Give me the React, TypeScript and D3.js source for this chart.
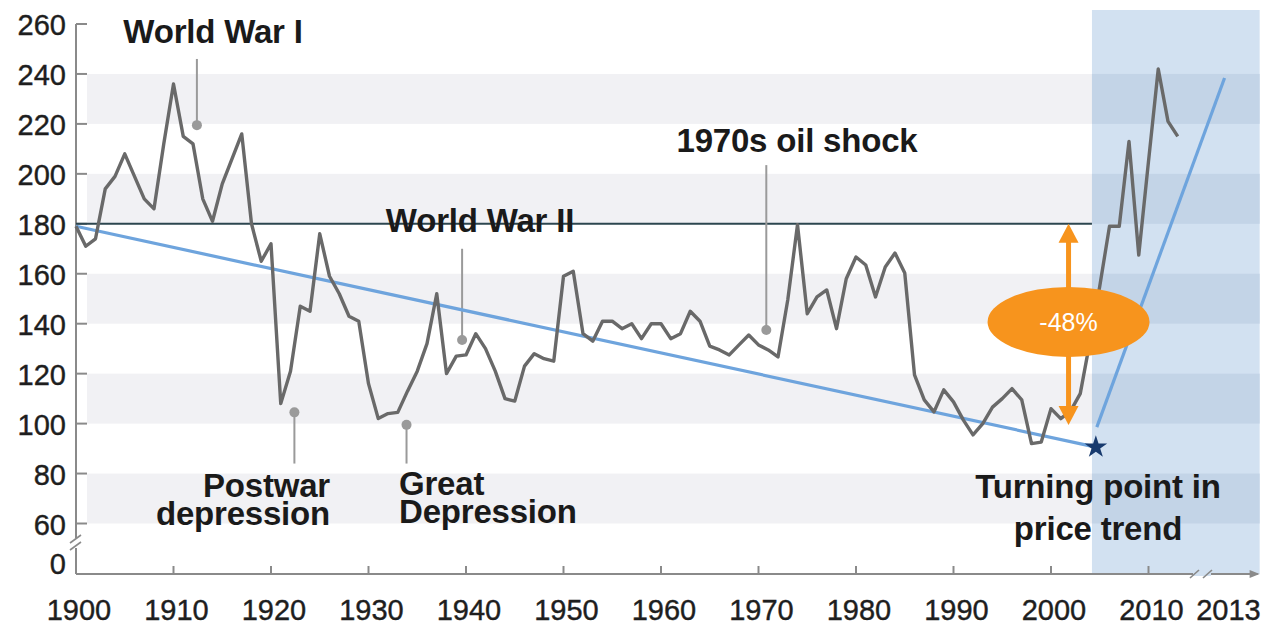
import React from "react";
import * as d3 from "d3";

// ---------- data ----------
const years: number[] = d3.range(1900, 2014);
const priceIndex: number[] = [
  179, 171, 174, 194, 199, 208, 199, 190, 186, 212, // 1900-1909
  236, 215, 212, 190, 181, 196, 206, 216, 180, 165, // 1910-1919
  172, 108, 121, 147, 145, 176, 159, 152, 143, 141, // 1920-1929
  116, 102, 104, 104.5, 113, 121, 132, 152, 120, 127, // 1930-1939
  127.5, 136, 130, 121, 110, 109, 123, 128, 126, 125, // 1940-1949
  159, 161, 136, 133, 141, 141, 138, 140, 134, 140, // 1950-1959
  140, 134, 136, 145, 141, 131, 129.5, 127.5, 131.5, 135.5, // 1960-1969
  131.5, 129.5, 126.7, 149.5, 179.6, 144, 150.7, 153.5, 138, 158, // 1970-1979
  166.7, 163.5, 150.7, 162.7, 168.3, 160.3, 119.5, 109.5, 104.7, 113.5, // 1980-1989
  108.7, 101.5, 95.5, 100, 106.6, 110, 114, 109.5, 92, 92.6, // 1990-1999
  106, 102, 105, 112, 133, 155, 179, 179, 213, 167.5, // 2000-2009
  205, 242, 221, 215, // 2010-2013
];

const yTicks: number[] = [260, 240, 220, 200, 180, 160, 140, 120, 100, 80, 60];
const yBands: [number, number][] = [[220, 240], [180, 200], [140, 160], [100, 120], [60, 80]];
const xTickYears: number[] = [1900, 1910, 1920, 1930, 1940, 1950, 1960, 1970, 1980, 1990, 2000, 2010];
const xTickLabels: string[] = ["1900", "1910", "1920", "1930", "1940", "1950", "1960", "1970", "1980", "1990", "2000", "2010"];
const brokenLabel = "2013";
const brokenLabelYear = 2018.2; // display position after the axis break

const referenceLevel = 180;
const downTrend: [number, number][] = [[1900, 179], [2004.6, 90.6]];
const upTrend: [number, number][] = [[2004.7, 98.6], [2017.8, 238.4]];
const turningPoint: [number, number] = [2004.6, 90.6];
const shadeStartYear = 2004.2;
const axisEndYear = 2021.4;
const dropArrow = { year: 2001.8, from: 180, to: 99.4, labelValue: 140.7, label: "-48%" };

type Ann = { lines: string[]; year: number; value: number; lineTo: number; textX: number; textY: number; anchor: string; lh: number };
const annotations: Ann[] = [
  { lines: ["World War I"], year: 1912.4, value: 219.5, lineTo: 246, textX: 213, textY: 43, anchor: "middle", lh: 0 },
  { lines: ["World War II"], year: 1939.6, value: 133.5, lineTo: 170, textX: 480, textY: 232, anchor: "middle", lh: 0 },
  { lines: ["1970s oil shock"], year: 1970.8, value: 137.5, lineTo: 203.5, textX: 797, textY: 152, anchor: "middle", lh: 0 },
  { lines: ["Postwar", "depression"], year: 1922.4, value: 104.5, lineTo: 84, textX: 330, textY: 497, anchor: "end", lh: 28 },
  { lines: ["Great", "Depression"], year: 1933.9, value: 99.5, lineTo: 84, textX: 399, textY: 495, anchor: "start", lh: 28 },
];
const turningLabel = ["Turning point in", "price trend"];

// ---------- layout ----------
const W = 1268, H = 626;
const x = d3.scaleLinear().domain([1900, 2010]).range([76, 1148.5]);
const y = d3.scaleLinear().domain([60, 260]).range([523.5, 24]);
const axisY = 574;
const axisX = 76;
const font = "'Liberation Sans', Arial, Helvetica, sans-serif";

export default function App() {
  const pts: [number, number][] = years.map((yr, i) => [x(yr), y(priceIndex[i])]);
  const line = d3.line<[number, number]>().x((d) => d[0]).y((d) => d[1]);
  const tline = d3.line<[number, number]>().x((d) => x(d[0])).y((d) => y(d[1]));
  const xs = x(shadeStartYear), xe = x(axisEndYear);
  const star = d3.symbol().type(d3.symbolStar).size(160)();
  const ax = x(dropArrow.year);
  const aTop = y(dropArrow.from), aBot = y(dropArrow.to), aMid = y(dropArrow.labelValue);
  const tickText = { fontSize: 29, fill: "#1e1e1e", stroke: "#1e1e1e", strokeWidth: 0.4 };

  return (
    <svg width={W} height={H} style={{ position: "absolute", left: 0, top: 0, background: "#fff" }} fontFamily={font}>
      {/* shaded future region */}
      <rect x={xs} y={10} width={xe - xs} height={axisY - 10} fill="#d2e1f1" />
      {/* bands */}
      {yBands.map(([a, b], i) => (
        <g key={i}>
          <rect x={87} y={y(b)} width={xs - 87} height={y(a) - y(b)} fill="#f1f1f4" />
          <rect x={xs} y={y(b)} width={xe - xs} height={y(a) - y(b)} fill="#c3d4e7" />
        </g>
      ))}

      {/* axes */}
      <line x1={axisX} x2={axisX} y1={y(260)} y2={axisY} stroke="#8a8a8a" strokeWidth={2} />
      <line x1={axisX} x2={xe - 2} y1={axisY} y2={axisY} stroke="#8a8a8a" strokeWidth={2} />
      <path d={`M${xe - 10},${axisY - 4}L${xe},${axisY}L${xe - 10},${axisY + 4}Z`} fill="#8a8a8a" />
      {yTicks.map((t) => (
        <g key={t}>
          <line x1={axisX} x2={87} y1={y(t)} y2={y(t)} stroke="#8a8a8a" strokeWidth={2} />
          <text x={66} y={y(t) + 11} textAnchor="end" {...tickText}>{t}</text>
        </g>
      ))}
      <text x={66} y={axisY} textAnchor="end" {...tickText}>0</text>
      {/* y break */}
      <rect x={70} y={538} width={12} height={10} fill="#fff" />
      <line x1={70} y1={543} x2={81} y2={535} stroke="#8a8a8a" strokeWidth={1.6} />
      <line x1={70} y1={550} x2={81} y2={542} stroke="#8a8a8a" strokeWidth={1.6} />
      {xTickYears.map((t, i) => (
        <g key={t}>
          {i > 0 && <line x1={x(t)} x2={x(t)} y1={axisY} y2={axisY - 8} stroke="#8a8a8a" strokeWidth={2} />}
          <text x={x(t) + 3} y={620} textAnchor="middle" {...tickText}>{xTickLabels[i]}</text>
        </g>
      ))}
      <text x={x(brokenLabelYear)} y={620} textAnchor="middle" {...tickText}>{brokenLabel}</text>
      {/* x break */}
      <rect x={1193} y={axisY - 2} width={18} height={4} fill="#d2e1f1" />
      <line x1={1190} y1={axisY + 4} x2={1199} y2={axisY - 4} stroke="#8a8a8a" strokeWidth={1.6} />
      <line x1={1203} y1={axisY + 4} x2={1212} y2={axisY - 4} stroke="#8a8a8a" strokeWidth={1.6} />

      {/* reference level */}
      <line x1={axisX} x2={xs} y1={y(referenceLevel)} y2={y(referenceLevel)} stroke="#2c464f" strokeWidth={2} />

      {/* annotation pointers */}
      {annotations.map((a, i) => (
        <g key={i}>
          <line x1={x(a.year)} x2={x(a.year)} y1={y(a.value)} y2={y(a.value) + (a.lineTo > a.value ? -1 : 1) * Math.abs(y(a.lineTo) - y(a.value))} stroke="#9a9a9a" strokeWidth={2} />
          <circle cx={x(a.year)} cy={y(a.value)} r={5} fill="#9a9a9a" />
        </g>
      ))}

      {/* trend lines */}
      <path d={tline(downTrend) || ""} fill="none" stroke="#6ea4dd" strokeWidth={3.2} />
      <path d={tline(upTrend) || ""} fill="none" stroke="#6ea4dd" strokeWidth={3.2} />

      {/* price line */}
      <path d={line(pts) || ""} fill="none" stroke="#696969" strokeWidth={3.4} strokeLinejoin="round" />

      {/* turning point star */}
      <path d={star || ""} transform={`translate(${x(turningPoint[0])},${y(turningPoint[1])})`} fill="#173a6e" />

      {/* drop arrow */}
      <line x1={ax} x2={ax} y1={aTop + 16} y2={aBot - 16} stroke="#f7941d" strokeWidth={5} />
      <path d={`M${ax},${aTop}L${ax + 10},${aTop + 19}L${ax - 10},${aTop + 19}Z`} fill="#f7941d" />
      <path d={`M${ax},${aBot}L${ax + 10},${aBot - 19}L${ax - 10},${aBot - 19}Z`} fill="#f7941d" />
      <ellipse cx={ax} cy={aMid} rx={81} ry={35} fill="#f7941d" />
      <text x={ax} y={aMid + 9} textAnchor="middle" fontSize={25} fill="#fff">{dropArrow.label}</text>

      {/* annotation text */}
      {annotations.map((a, i) => (
        <text key={i} x={a.textX} y={a.textY} textAnchor={a.anchor as any} fontSize={33} fontWeight="bold" fill="#1a1a1a" letterSpacing={-0.2}>
          {a.lines.map((l, j) => (
            <tspan key={j} x={a.textX} dy={j === 0 ? 0 : a.lh}>{l}</tspan>
          ))}
        </text>
      ))}
      <text x={1098} y={498} textAnchor="middle" fontSize={33} fontWeight="bold" fill="#1a1a1a" letterSpacing={-0.2}>
        {turningLabel.map((l, j) => (
          <tspan key={j} x={1098} dy={j === 0 ? 0 : 42}>{l}</tspan>
        ))}
      </text>
    </svg>
  );
}
